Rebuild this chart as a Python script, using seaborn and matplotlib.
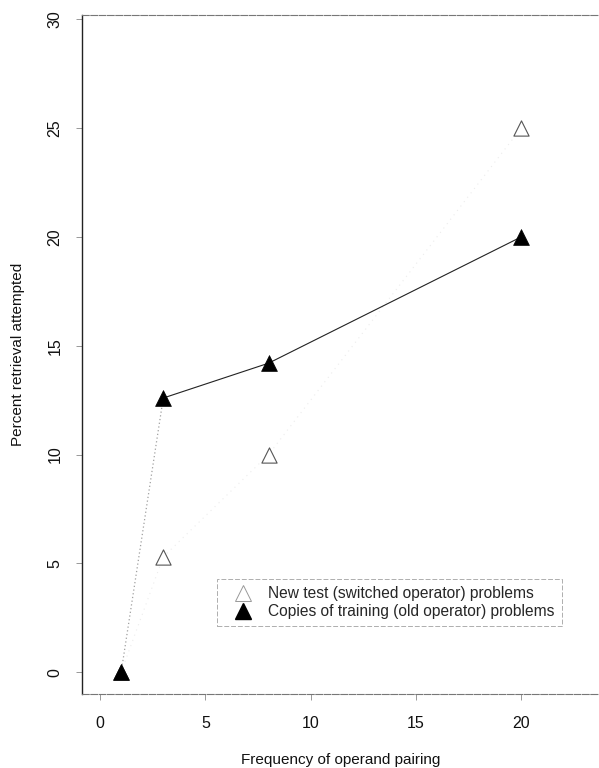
import matplotlib
matplotlib.use("Agg")
import matplotlib.pyplot as plt
import seaborn as sns
import pandas as pd
from matplotlib.lines import Line2D

# Data
frequency = [1, 3, 8, 20]
new_test = [0.0, 5.3, 10.0, 25.0]
copies_training = [0.0, 12.6, 14.2, 20.0]
x_ticks = [0, 5, 10, 15, 20]
y_ticks = [0, 5, 10, 15, 20, 25, 30]
labels = ["New test (switched operator) problems",
          "Copies of training (old operator) problems"]

sns.set_theme(style="white")
plt.rcParams['font.family'] = ['Liberation Sans', 'DejaVu Sans']

df_new = pd.DataFrame({"freq": frequency, "pct": new_test})
df_old = pd.DataFrame({"freq": frequency, "pct": copies_training})

fig = plt.figure(figsize=(5.99, 7.68), dpi=100)
ax = fig.add_axes([82/599, 1 - 694/768, 1 - 82/599, (694 - 15)/768])

# very faint connecting line for the new-test series
sns.lineplot(data=df_new, x="freq", y="pct", ax=ax, color="#ececec",
             linestyle=(0, (1, 4)), linewidth=0.8, zorder=1)
# faint first segment of old series
sns.lineplot(data=df_old.iloc[:2], x="freq", y="pct", ax=ax, color="#a0a0a0",
             linestyle=(0, (1, 2)), linewidth=0.9, zorder=1)
# solid remainder of old series
sns.lineplot(data=df_old.iloc[1:], x="freq", y="pct", ax=ax, color="#222222",
             linewidth=0.8, zorder=2)

sns.scatterplot(data=df_new, x="freq", y="pct", ax=ax, marker="^", s=120,
                facecolor="white", edgecolor="#555555", linewidth=0.8, zorder=3)
sns.scatterplot(data=df_old, x="freq", y="pct", ax=ax, marker="^", s=130,
                color="black", edgecolor="black", linewidth=0.5, zorder=4)

ax.set_xlim(-0.86, 23.7)
ax.set_ylim(-1.0, 30.2)
ax.set_xticks(x_ticks)
ax.set_yticks(y_ticks)
ax.tick_params(axis="both", direction="out", length=4, width=0.6,
               colors="#888888", labelcolor="#111111", labelsize=11.5,
               bottom=True, left=True)
for lab in ax.get_yticklabels():
    lab.set_rotation(90)
    lab.set_va("center")
ax.tick_params(axis="x", pad=12)
ax.tick_params(axis="y", pad=10)

ax.set_xlabel("Frequency of operand pairing", fontsize=11, labelpad=16,
              color="#111111")
ax.set_ylabel("Percent retrieval attempted", fontsize=11, labelpad=16,
              color="#111111")

ax.spines["right"].set_visible(False)
ax.spines["left"].set_color("#222222")
ax.spines["left"].set_linewidth(1.0)
for s in ["top", "bottom"]:
    ax.spines[s].set_color("#777777")
    ax.spines[s].set_linewidth(0.8)
    ax.spines[s].set_linestyle((0, (6, 1.5)))

handles = [
    Line2D([], [], marker="^", linestyle="none", markersize=11,
           markerfacecolor="white", markeredgecolor="#999999", markeredgewidth=0.7),
    Line2D([], [], marker="^", linestyle="none", markersize=11,
           markerfacecolor="black", markeredgecolor="black"),
]
leg = ax.legend(handles, labels, loc="upper left",
                bbox_to_anchor=((217 - 82) / (599 - 82), (694 - 579) / (694 - 15)),
                frameon=True, fancybox=False, fontsize=11.2, handletextpad=0.45,
                borderpad=0.45, labelspacing=0.2, handlelength=2.4,
                borderaxespad=0)
leg.get_frame().set_edgecolor("#999999")
leg.get_frame().set_linewidth(0.7)
leg.get_frame().set_linestyle((0, (5, 2)))

fig.savefig("out.png", dpi=100)
